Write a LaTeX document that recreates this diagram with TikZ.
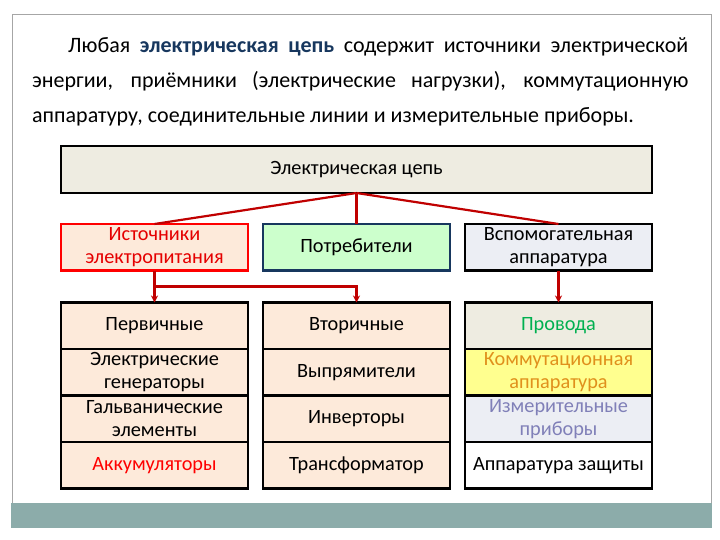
\documentclass[tikz,border=0pt]{standalone}
\usepackage{fontspec}
\setmainfont{Carlito}
\usetikzlibrary{arrows.meta, positioning}
\definecolor{frame}{HTML}{A6A6A6}
\definecolor{band}{HTML}{8CACAA}
\definecolor{tan}{HTML}{EEECE1}
\definecolor{peach}{HTML}{FDEADA}
\definecolor{mint}{HTML}{CCFFCC}
\definecolor{navy}{HTML}{17375E}
\definecolor{mist}{HTML}{ECEEF4}
\definecolor{wire}{HTML}{C00000}
\definecolor{lemon}{HTML}{FFFF8F}
\definecolor{amber}{HTML}{E0901C}
\definecolor{lilac}{HTML}{8080B8}
\definecolor{leaf}{HTML}{00B050}

\begin{document}
\begin{tikzpicture}[x=1pt, y=-1pt, >={Stealth[length=7pt,width=7pt]},
    box/.style={draw, line width=2.6pt, outer sep=0pt, minimum width=187pt, minimum height=46.5pt,
      inner sep=1pt, align=center, font=\fontsize{20.3}{23}\selectfont},
    cell/.style={box, fill=peach},
    link/.style={wire, line width=2.2pt}]
  \useasboundingbox (0,0) rectangle (720,540);
  \fill[white] (0,0) rectangle (720,540);
  \draw[frame, line width=0.8pt] (12,503) -- (12,14) -- (711,14) -- (711,503);
  \fill[band] (11,503) rectangle (712,528);
  \node (para) [anchor=north west, text width=656pt, align=justify, inner sep=0pt,
    font=\fontsize{22}{35}\selectfont] at (32,37)
    {\hspace*{36pt}Любая {\bfseries\color{navy}электрическая цепь} содержит источники электрической\linebreak
     энергии, приёмники (электрические нагрузки), коммутационную\linebreak
     аппаратуру, соединительные линии и измерительные приборы.};

  \node (top) [box, fill=tan, minimum width=591pt, minimum height=47pt] at (356.5,169.5) {Электрическая цепь};
  \node (cons) [box, fill=mint, draw=navy, below=31pt of top] {Потребители};
  \node (src) [box, fill=peach, draw=red, text=red!90!black, left=15pt of cons] {Источники\\электропитания};
  \node (aux) [box, fill=mist, right=15pt of cons] {Вспомогательная\\аппаратура};

  \node (prim) [cell, below=32pt of src] {Первичные};
  \node (gen) [cell, below=0pt of prim] {Электрические\\генераторы};
  \node (galv) [cell, below=0pt of gen] {Гальванические\\элементы};
  \node (acc) [cell, text=red, below=0pt of galv] {Аккумуляторы};

  \node (sec) [cell, below=32pt of cons] {Вторичные};
  \node (rect) [cell, below=0pt of sec] {Выпрямители};
  \node (inv) [cell, below=0pt of rect] {Инверторы};
  \node (trans) [cell, below=0pt of inv] {Трансформатор};

  \node (wires) [box, fill=tan, text=leaf, below=32pt of aux] {Провода};
  \node (switch) [box, fill=lemon, text=amber, below=0pt of wires] {Коммутационная\\аппаратура};
  \node (meter) [box, fill=mist, text=lilac, below=0pt of switch] {Измерительные\\приборы};
  \node (prot) [box, fill=white, below=0pt of meter] {Аппаратура защиты};

  \draw[link] (top.south) -- (src.north);
  \draw[link] (top.south) -- (cons.north);
  \draw[link] (top.south) -- (aux.north);
  \draw[link, ->] (src.south) -- coordinate[pos=0.5] (split) (prim.north);
  \draw[link, ->] (split) -| (sec.north);
  \draw[link, ->] (aux.south) -- (wires.north);
\end{tikzpicture}
\end{document}
